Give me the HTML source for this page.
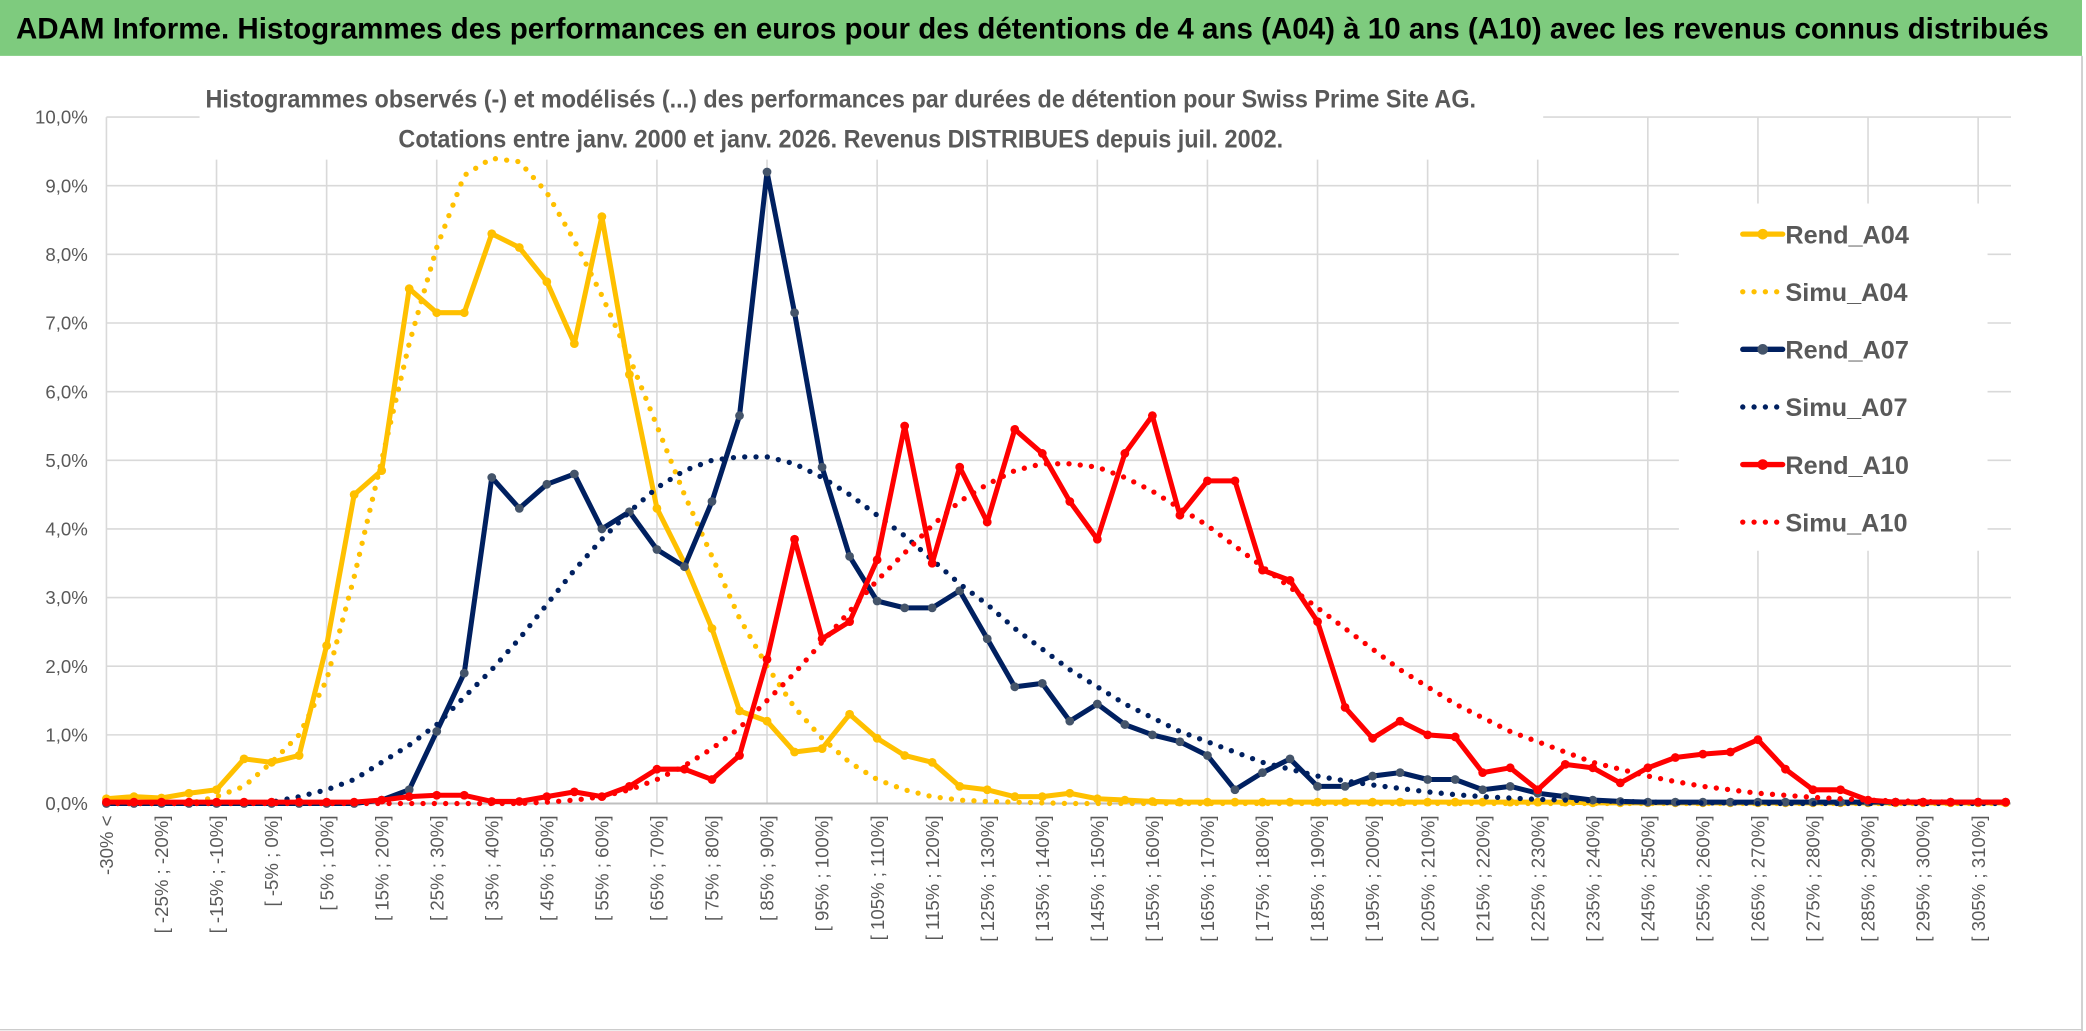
<!DOCTYPE html>
<html><head><meta charset="utf-8"><style>
html,body{margin:0;padding:0;background:#fff}
svg{display:block}
text{font-family:"Liberation Sans",sans-serif}
</style></head><body>
<svg id="chart" width="2086" height="1031" viewBox="0 0 1568 775" preserveAspectRatio="none" xmlns="http://www.w3.org/2000/svg">
<rect x="0" y="0" width="1568" height="775" fill="#fff"/>
<rect x="0" y="0" width="1565" height="42" fill="#7ECB7E"/>
<text x="12" y="29" font-size="22" font-weight="bold" fill="#000" textLength="1528" lengthAdjust="spacingAndGlyphs">ADAM Informe. Histogrammes des performances en euros pour des détentions de 4 ans (A04) à 10 ans (A10) avec les revenus connus distribués</text>
<line x1="1565" y1="42" x2="1565" y2="775" stroke="#bbb" stroke-width="1"/>
<line x1="0" y1="774" x2="1565" y2="774" stroke="#ccc" stroke-width="1"/>
<g id="grid"></g>
<rect x="150" y="52" width="1010" height="68" fill="#fff"/>
<text x="632" y="81" font-size="19" font-weight="bold" fill="#595959" text-anchor="middle" textLength="955" lengthAdjust="spacingAndGlyphs">Histogrammes observés (-) et modélisés (...) des performances par durées de détention pour Swiss Prime Site AG.</text>
<text x="632" y="111" font-size="19" font-weight="bold" fill="#595959" text-anchor="middle" textLength="665" lengthAdjust="spacingAndGlyphs">Cotations entre janv. 2000 et janv. 2026. Revenus DISTRIBUES depuis juil. 2002.</text>
<rect x="1262" y="153" width="232" height="261" fill="#fff"/>
<g id="axes"></g>
<g id="series"></g>
<g id="legend"></g>
</svg>
<script>
const cats = [];
const A04rend = [0.07,0.1,0.08,0.15,0.2,0.65,0.6,0.7,2.3,4.5,4.85,7.5,7.15,7.15,8.3,8.1,7.6,6.7,8.55,6.25,4.3,3.5,2.55,1.35,1.2,0.75,0.8,1.3,0.95,0.7,0.6,0.25,0.2,0.1,0.1,0.15,0.07,0.05,0.03,0.02,0.02,0.02,0.02,0.02,0.02,0.02,0.02,0.02,0.02,0.02,0.02,0.02,0.02,0.02,0.01,0.01,0.01,0.01,0.01,0.01,0.01,0.01,0.01,0.01,0.01,0.01,0.01,0.01,0.01,0.01];
const A04simu = [0,0,0,0,0.1,0.25,0.6,1.0,1.8,3.3,5.0,6.7,8.1,9.15,9.4,9.35,8.9,8.2,7.4,6.5,5.5,4.5,3.6,2.7,2.0,1.4,0.95,0.6,0.35,0.2,0.1,0.05,0.03,0.02,0.01,0,0,0,0,0,0,0,0,0,0,0,0,0,0,0,0,0,0,0,0,0,0,0,0,0,0,0,0,0,0,0,0,0,0,0];
const A07rend = [0,0,0,0,0,0,0,0,0,0,0.05,0.2,1.05,1.9,4.75,4.3,4.65,4.8,4.0,4.25,3.7,3.45,4.4,5.65,9.2,7.15,4.9,3.6,2.95,2.85,2.85,3.1,2.4,1.7,1.75,1.2,1.45,1.15,1.0,0.9,0.7,0.2,0.45,0.65,0.25,0.25,0.4,0.45,0.35,0.35,0.2,0.25,0.15,0.1,0.05,0.03,0.02,0.02,0.02,0.02,0.02,0.02,0.02,0.02,0.02,0.02,0.02,0.02,0.02,0.02];
const A07simu = [0,0,0,0,0,0,0.02,0.1,0.2,0.35,0.6,0.85,1.15,1.55,1.95,2.4,2.9,3.4,3.85,4.25,4.6,4.85,5.0,5.05,5.05,4.95,4.75,4.5,4.2,3.9,3.55,3.2,2.9,2.55,2.25,1.95,1.7,1.45,1.25,1.05,0.9,0.75,0.6,0.5,0.4,0.33,0.27,0.22,0.17,0.13,0.1,0.08,0.06,0.05,0.04,0.03,0.02,0.01,0.01,0.01,0,0,0,0,0,0,0,0,0,0];
const A10rend = [0.02,0.02,0.02,0.02,0.02,0.02,0.02,0.02,0.02,0.02,0.05,0.1,0.12,0.12,0.03,0.03,0.1,0.17,0.1,0.25,0.5,0.5,0.35,0.7,2.1,3.85,2.4,2.65,3.55,5.5,3.5,4.9,4.1,5.45,5.1,4.4,3.85,5.1,5.65,4.2,4.7,4.7,3.4,3.25,2.65,1.4,0.95,1.2,1.0,0.97,0.45,0.52,0.2,0.57,0.52,0.3,0.52,0.67,0.72,0.75,0.93,0.5,0.2,0.2,0.05,0.02,0.02,0.02,0.02,0.02];
const A10simu = [0,0,0,0,0,0,0,0,0,0,0,0,0,0,0,0,0.02,0.05,0.1,0.2,0.35,0.55,0.8,1.1,1.5,1.9,2.35,2.8,3.25,3.65,4.05,4.4,4.65,4.85,4.95,4.95,4.9,4.75,4.55,4.3,4.05,3.75,3.45,3.15,2.85,2.55,2.25,1.95,1.7,1.45,1.25,1.05,0.9,0.75,0.6,0.5,0.4,0.32,0.25,0.2,0.15,0.12,0.09,0.07,0.05,0.04,0.03,0.02,0.02,0.02];
const yTicks = ["0,0%","1,0%","2,0%","3,0%","4,0%","5,0%","6,0%","7,0%","8,0%","9,0%","10,0%"];
const seriesNames = ["Rend_A04","Simu_A04","Rend_A07","Simu_A07","Rend_A10","Simu_A10"];

for (let i = 0; i < 70; i++) {
  if (i === 0) cats.push("-30% <");
  else { const a = -30 + 5*(i-1); cats.push("[ " + a + "% ; " + (a+5) + "%]"); }
}

const NS = "http://www.w3.org/2000/svg";
const X0 = 80, STEP = 20.69, Y0 = 604, YPP = 51.6;
function xs(i){ return X0 + STEP*i; }
function ys(v){ return Y0 - YPP*v; }
function mk(tag, attrs, parent){ const e = document.createElementNS(NS, tag); for (const k in attrs) e.setAttribute(k, attrs[k]); parent.appendChild(e); return e; }

const grid = document.getElementById('grid');
for (let t = 1; t < yTicks.length; t++) {
  const gl = mk('line', {x1: X0, x2: xs(69)+4, y1: ys(t), y2: ys(t), stroke: '#d9d9d9', 'stroke-width': 1.2}, grid);
  
  
}
for (let i = 0; i < cats.length; i += 4) {
  const vl = mk('line', {x1: xs(i), x2: xs(i), y1: ys(10), y2: Y0, stroke: '#d9d9d9', 'stroke-width': 1.2}, grid);
  
  
}

const axes = document.getElementById('axes');
const ax = mk('line', {x1: X0, x2: xs(69)+4, y1: Y0, y2: Y0, stroke: '#bfbfbf', 'stroke-width': 1.5}, axes);


for (let t = 0; t < yTicks.length; t++) {
  const tl = mk('text', {x: 66, y: ys(t)+5, 'font-size': 14, fill: '#595959', 'text-anchor': 'end'}, axes);
  tl.textContent = yTicks[t];
  
  
}
for (let i = 0; i < cats.length; i += 2) {
  const lx = xs(i) + 5, ly = 613;
  const xl = mk('text', {x: lx, y: ly, 'font-size': 14, fill: '#595959', 'text-anchor': 'end', transform: 'rotate(-90 ' + lx + ' ' + ly + ')'}, axes);
  xl.textContent = cats[i];
  
  
}

const sg = document.getElementById('series');
function drawSeries(vals, color, markerColor, dotted, name){
  const g = mk('g', {}, sg);
  
  
  const d = vals.map((v,i)=>(i?'L':'M') + xs(i).toFixed(2) + ',' + ys(v).toFixed(2)).join(' ');
  const p = mk('path', {d: d, fill: 'none', stroke: color, 'stroke-width': dotted ? 4 : 3.8, 'stroke-linejoin': 'round', 'stroke-linecap': 'round', 'stroke-dasharray': dotted ? '0 8.5' : 'none'}, g);
  
  
  if (!dotted) {
    vals.forEach((v,i)=>{
      const c = mk('circle', {cx: xs(i), cy: ys(v), r: 3.3, fill: markerColor}, g);
      
      
    });
  }
}
drawSeries(A04rend, '#FFC000', '#FFC000', false, 'rend-a04');
drawSeries(A04simu, '#FFC000', '#FFC000', true, 'simu-a04');
drawSeries(A07rend, '#002060', '#44546A', false, 'rend-a07');
drawSeries(A07simu, '#002060', '#002060', true, 'simu-a07');
drawSeries(A10rend, '#FF0000', '#FF0000', false, 'rend-a10');
drawSeries(A10simu, '#FF0000', '#FF0000', true, 'simu-a10');

const lg = document.getElementById('legend');
const lcolors = ['#FFC000','#FFC000','#002060','#002060','#FF0000','#FF0000'];
const lmark = ['#FFC000','#FFC000','#44546A','#002060','#FF0000','#FF0000'];
for (let k = 0; k < seriesNames.length; k++) {
  const y = 176 + k*43.3;
  const dotted = k % 2 === 1;
  const e = mk('g', {}, lg);
  
  
  if (dotted) {
    mk('line', {x1: 1310, x2: 1342, y1: y, y2: y, stroke: lcolors[k], 'stroke-width': 4, 'stroke-linecap': 'round', 'stroke-dasharray': '0 8.5'}, e);
  } else {
    mk('line', {x1: 1310, x2: 1340, y1: y, y2: y, stroke: lcolors[k], 'stroke-width': 4, 'stroke-linecap': 'round'}, e);
    mk('circle', {cx: 1325, cy: y, r: 4, fill: lmark[k]}, e);
  }
  const t = mk('text', {x: 1342, y: y + 7, 'font-size': 19, 'font-weight': 'bold', fill: '#595959'}, e);
  t.textContent = seriesNames[k];
}
</script>
</body></html>
